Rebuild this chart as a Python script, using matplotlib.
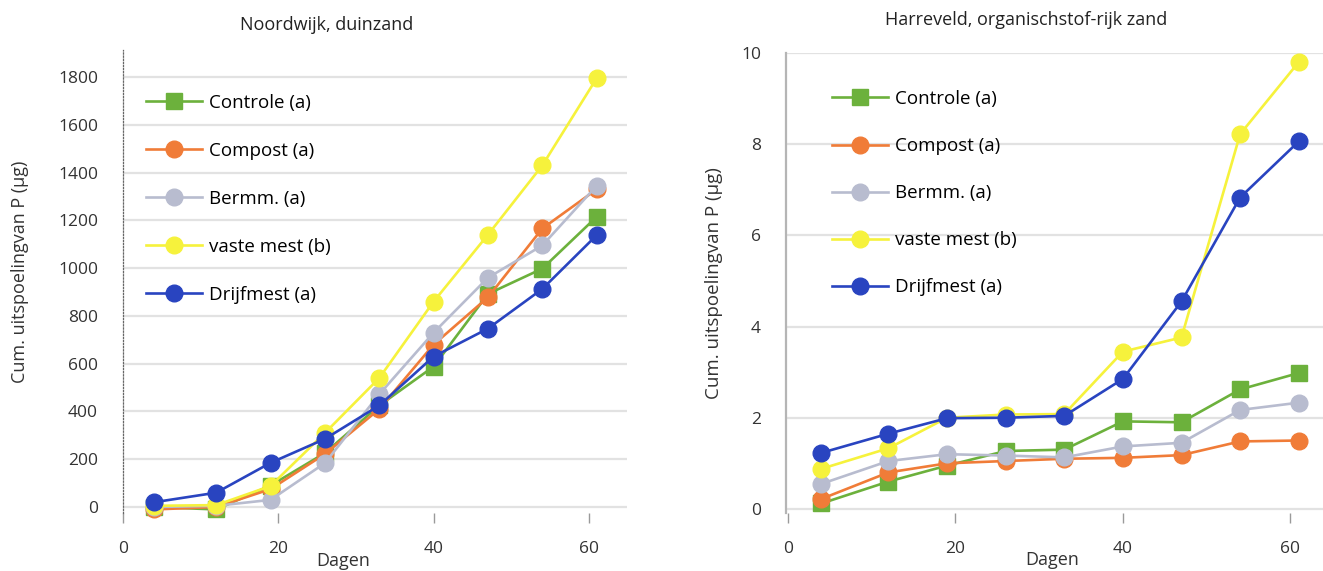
import matplotlib
matplotlib.use("Agg")
import matplotlib.pyplot as plt
from matplotlib import font_manager

# ---------------- data ----------------
days = [4, 12, 19, 26, 33, 40, 47, 54, 61]
series_names = ["Controle (a)", "Compost (a)", "Bermm. (a)", "vaste mest (b)", "Drijfmest (a)"]

# Noordwijk, duinzand
noordwijk_controle = [0, -10, 90, 226, 425, 588, 892, 998, 1215]
noordwijk_compost = [-10, 0, 75, 222, 410, 680, 878, 1166, 1330]
noordwijk_bermm = [0, 5, 30, 184, 472, 730, 960, 1095, 1345]
noordwijk_vaste = [5, 8, 88, 310, 540, 860, 1140, 1430, 1795]
noordwijk_drijf = [20, 60, 185, 285, 425, 630, 747, 913, 1138]

# Harreveld, organischstof-rijk zand
harreveld_controle = [0.12, 0.60, 0.95, 1.27, 1.30, 1.92, 1.90, 2.62, 2.98]
harreveld_compost = [0.22, 0.80, 1.00, 1.05, 1.10, 1.12, 1.18, 1.48, 1.50]
harreveld_bermm = [0.55, 1.05, 1.20, 1.17, 1.13, 1.37, 1.45, 2.17, 2.33]
harreveld_vaste = [0.88, 1.33, 2.00, 2.07, 2.08, 3.45, 3.76, 8.22, 9.80]
harreveld_drijf = [1.23, 1.65, 1.99, 2.00, 2.04, 2.85, 4.55, 6.83, 8.06]

left_yticks = [0, 200, 400, 600, 800, 1000, 1200, 1400, 1600, 1800]
right_yticks = [0, 2, 4, 6, 8, 10]
xticks = [0, 20, 40, 60]

titles = ["Noordwijk, duinzand", "Harreveld, organischstof-rijk zand"]
ylabel = "Cum. uitspoelingvan P (\u00b5g)"
xlabel = "Dagen"

# ---------------- style ----------------
colors = ["#6cb13c", "#f07c38", "#b8bccf", "#f6f23c", "#2944c0"]
markers = ["s", "o", "o", "o", "o"]

names = {f.name for f in font_manager.fontManager.ttflist}
if "Liberation Sans Narrow" in names:
    FONT, S = "Liberation Sans Narrow", 1.15
else:
    FONT, S = "Open Sans", 1.0
plt.rcParams["font.family"] = [FONT, "DejaVu Sans"]

W, H = 1323, 571
fig = plt.figure(figsize=(W / 100, H / 100), dpi=100)
fig.patch.set_facecolor("white")

TXT = "#333333"


def px_axes(l, t, r, b):
    return fig.add_axes([l / W, 1 - b / H, (r - l) / W, (b - t) / H])


def style(ax, yticks, spine_style):
    for s in ["top", "right", "bottom"]:
        ax.spines[s].set_visible(False)
    ax.spines["left"].set_color(spine_style[0])
    ax.spines["left"].set_linewidth(spine_style[1])
    ax.spines["left"].set_linestyle(spine_style[2])
    ax.set_yticks(yticks)
    ax.set_xticks(xticks)
    ax.yaxis.grid(True, color="#e2e2e2", linewidth=1.6)
    ax.set_axisbelow(True)
    ax.tick_params(axis="y", length=0, pad=18, labelsize=12.5 * S, labelcolor=TXT)
    ax.tick_params(axis="x", length=7, width=1, color="#9a9a9a", pad=13,
                   labelsize=12.5 * S, labelcolor=TXT)


def draw(ax, data):
    for vals, c, m, name in zip(data, colors, markers, series_names):
        ax.plot(days, vals, color=c, marker=m, markersize=12, linewidth=1.9,
                markeredgecolor=c, label=name, clip_on=False)


# left chart
ax1 = px_axes(123, 50, 627, 513)
style(ax1, left_yticks, ("#666666", 0.9, (0, (1, 1.5))))
draw(ax1, [noordwijk_controle, noordwijk_compost, noordwijk_bermm, noordwijk_vaste, noordwijk_drijf])
ax1.set_xlim(0, 64.9)
ax1.set_ylim(-25, 1913)

# right chart
ax2 = px_axes(786, 53, 1323, 513)
style(ax2, right_yticks, ("#b5b5b5", 1.6, "solid"))
draw(ax2, [harreveld_controle, harreveld_compost, harreveld_bermm, harreveld_vaste, harreveld_drijf])
ax2.set_xlim(-0.24, 63.9)
ax2.set_ylim(-0.09, 10.0)

for ax, lx, ly, sp in [(ax1, 146, 94, 1.6), (ax2, 832, 90, 1.55)]:
    ax.legend(loc="upper left", bbox_to_anchor=(lx / W, 1 - ly / H),
              bbox_transform=fig.transFigure, frameon=False, numpoints=1,
              handlelength=3.0, handletextpad=0.35, labelspacing=sp,
              borderpad=0, borderaxespad=0, prop={"size": 13.5 * S})

# titles and axis labels
fs_t = 13 * S
fig.text(327 / W, 1 - 25 / H, titles[0], ha="center", va="center", fontsize=fs_t, color="#222222")
fig.text(1026 / W, 1 - 20 / H, titles[1], ha="center", va="center", fontsize=fs_t, color="#222222")
fig.text(20 / W, 1 - 272 / H, ylabel, rotation=90, ha="center", va="center", fontsize=13 * S, color=TXT)
fig.text(714 / W, 1 - 283 / H, ylabel, rotation=90, ha="center", va="center", fontsize=13.5 * S, color=TXT)
fig.text(343 / W, 1 - 561 / H, xlabel, ha="center", va="center", fontsize=13 * S, color=TXT)
fig.text(1052 / W, 1 - 560 / H, xlabel, ha="center", va="center", fontsize=13 * S, color=TXT)

fig.savefig("out.png", dpi=100, facecolor="white")
